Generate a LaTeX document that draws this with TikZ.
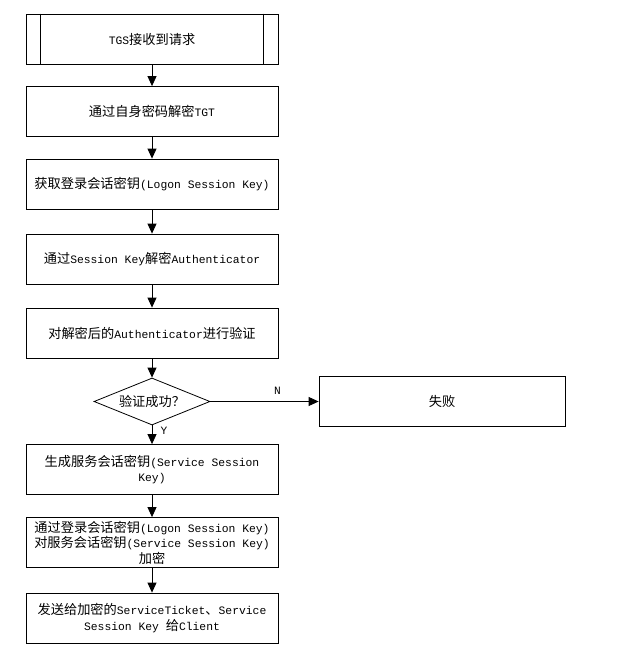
\documentclass[tikz,border=0pt]{standalone}
\usepackage{fontspec}
\setmainfont{Noto Sans CJK SC}
\setmonofont[Scale=0.86]{Liberation Mono}
\usetikzlibrary{shapes.geometric,arrows.meta}
\newcommand\en[1]{{\ttfamily #1}}
\begin{document}
\begin{tikzpicture}[x=1pt, y=-1pt,
    box/.style={draw, line width=0.8pt, minimum width=252pt, minimum height=50pt,
                inner sep=0pt, align=center, font=\fontsize{13.2}{15.5}\selectfont},
    decision/.style={draw, diamond, line width=0.8pt, minimum width=116pt, minimum height=47pt,
                inner sep=0pt, aspect=2.5, font=\fontsize{13.2}{15.5}\selectfont},
    arr/.style={line width=0.8pt, -{Triangle[length=10pt,width=9pt]}},
    lbl/.style={font=\fontsize{13}{15}\selectfont\ttfamily}]
    \useasboundingbox (0,0) rectangle (623,650);

    % Основной поток
    \node[box] (recv) at (152,39) {\en{TGS}接收到请求};
    \draw[line width=0.8pt] ([xshift=15pt]recv.north west) -- ([xshift=15pt]recv.south west);
    \draw[line width=0.8pt] ([xshift=-15pt]recv.north east) -- ([xshift=-15pt]recv.south east);
    \node[box] (tgt) at (152,111.5) {通过自身密码解密\en{TGT}};
    \node[box] (logon) at (152,184) {获取登录会话密钥\en{(Logon Session Key)}};
    \node[box] (auth) at (152,259) {通过\en{Session Key}解密\en{Authenticator}};
    \node[box] (check) at (152,333) {对解密后的\en{Authenticator}进行验证};

    % Проверка
    \node[decision] (ok) at (152,401.5) {验证成功？};
    \node[box, minimum width=246pt] (fail) at (442,401.5) {失败};

    % Ветка Y
    \node[box] (svc) at (152,469.5) {生成服务会话密钥\en{(Service Session}\\\en{Key)}};
    \node[box] (enc) at (152,542.5) {通过登录会话密钥\en{(Logon Session Key)}\\对服务会话密钥\en{(Service Session Key)}\\加密};
    \node[box] (send) at (152,618) {发送给加密的\en{ServiceTicket}、\en{Service}\\\en{Session Key }给\en{Client}};

    \draw[arr] (recv) -- (tgt);
    \draw[arr] (tgt) -- (logon);
    \draw[arr] (logon) -- (auth);
    \draw[arr] (auth) -- (check);
    \draw[arr] (check) -- (ok);
    \draw[arr] (ok.east) -- node[lbl, pos=0.62, above=3pt] {N} (fail.west);
    \draw[arr] (ok.south) -- node[lbl, pos=0.3, right=5pt] {Y} (svc.north);
    \draw[arr] (svc) -- (enc);
    \draw[arr] (enc) -- (send);
\end{tikzpicture}
\end{document}
